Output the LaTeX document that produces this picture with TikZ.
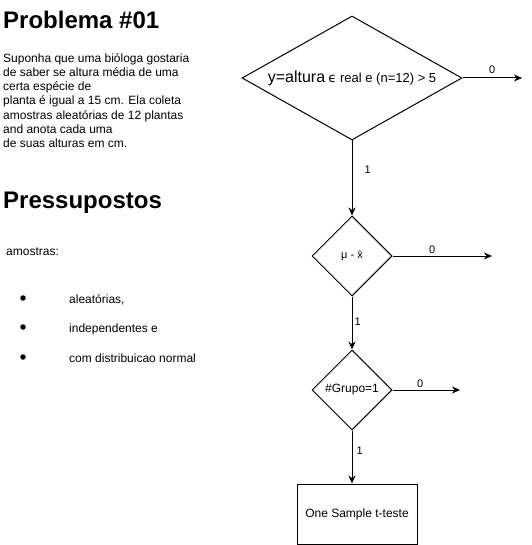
\documentclass[tikz,border=0pt]{standalone}
\usepackage{fontspec}
\setmainfont{Liberation Sans}
\newfontfamily\dejavu{DejaVu Sans}
\usetikzlibrary{shapes.geometric,arrows.meta}
\tikzset{
  arr/.style={draw, line width=1pt, -{Stealth[length=8pt,width=7pt,inset=2.5pt]}},
  dia/.style={diamond, draw, line width=1pt, inner sep=0pt, font=\fontsize{12}{14}\selectfont},
  lbl/.style={inner sep=1pt, font=\fontsize{11}{13}\selectfont},
  heading/.style={anchor=base west, inner sep=0pt, font=\bfseries\fontsize{24}{28}\selectfont},
  body/.style={anchor=base west, inner sep=0pt, align=left, font=\fontsize{12}{14.3}\selectfont},
  bul/.style={circle, fill=black, inner sep=0pt, minimum size=5.5pt}
}
\begin{document}
\begin{tikzpicture}[x=1pt,y=-1pt]
\useasboundingbox[fill=white] (0,0) rectangle (531,545);

% left texts
\node[heading] (h1) at (3,29) {Problema \#01};
\node[body, anchor=north west] (t1) at (3,53) {Suponha que uma bióloga gostaria\\de saber se altura média de uma\\certa espécie de\\planta é igual a 15 cm. Ela coleta\\amostras aleatórias de 12 plantas\\and anota cada uma\\de suas alturas em cm.};
\node[heading] (h2) at (3,208) {Pressupostos};
\node[body] (am) at (6,255) {amostras:};
\node[bul] (b1) at (23,298) {};
\node[bul] (b2) at (23,327) {};
\node[bul] (b3) at (23,357) {};
\node[body] (l1) at (69,303) {aleatórias,};
\node[body] (l2) at (69,332) {independentes e};
\node[body] (l3) at (69,362) {com distribuicao normal};

% flowchart
\node[dia, minimum width=220pt, minimum height=124pt, shape aspect=1.774] (d1) at (352,78)
  {{\fontsize{16}{18}\selectfont y=altura} {\fontsize{13}{15}\selectfont{\dejavu ϵ} real e (n=12) > 5}};
\node[dia, minimum width=80pt, minimum height=80pt, shape aspect=1, font=\fontsize{11}{13}\selectfont] (d2) at (352,256) {μ - x̄};
\node[dia, minimum width=80pt, minimum height=80pt, shape aspect=1] (d3) at (352,390) {\#Grupo=1};
\node[draw, line width=1pt, minimum width=120pt, minimum height=60pt, inner sep=0pt,
      font=\fontsize{12}{14}\selectfont] (box) at (357,514) {One Sample t-teste};

\coordinate (e1) at (522,78);
\coordinate (e2) at (492,256);
\coordinate (e3) at (460,390);

\draw[arr] (d1.east) -- (e1) node[lbl, pos=0.5, above=3pt] {0};
\draw[arr] (d1.south) -- (d2.north) node[lbl, pos=0.39, right=11pt] {1};
\draw[arr] (d2.east) -- (e2) node[lbl, pos=0.4, above=1pt] {0};
\draw[arr] (d2.south) -- (d3.north) node[lbl, pos=0.48, right=1pt] {1};
\draw[arr] (d3.east) -- (e3) node[lbl, pos=0.41, above=1pt] {0};
\draw[arr] (d3.south) -- (d3.south |- box.north) node[lbl, pos=0.39, right=3pt] {1};
\end{tikzpicture}
\end{document}
